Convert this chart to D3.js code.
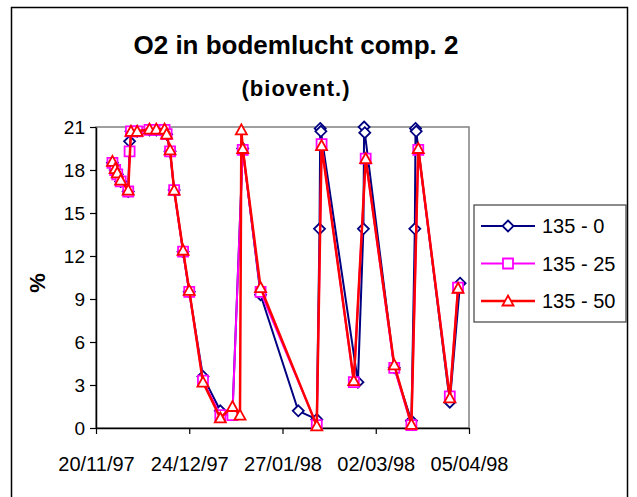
<!DOCTYPE html>
<html>
<head>
<meta charset="utf-8">
<script src="https://cdn.jsdelivr.net/npm/d3@7"></script>
<style>
  body { margin: 0; background: #fff; }
  text { font-family: Arial, "Liberation Sans", sans-serif; }
</style>
</head>
<body>
<div id="chart"></div>
<script>

// data
var dates = [
  "1997-11-26 00:00", "1997-11-27 00:00", "1997-11-27 18:00", "1997-11-29 00:00",
  "1997-12-01 18:00", "1997-12-02 06:00", "1997-12-02 18:00", "1997-12-05 00:00",
  "1997-12-09 12:00", "1997-12-12 00:00", "1997-12-15 00:00", "1997-12-15 18:00",
  "1997-12-17 00:00", "1997-12-18 12:00", "1997-12-21 18:00", "1997-12-24 00:00",
  "1997-12-29 00:00", "1998-01-04 08:00", "1998-01-08 18:00", "1998-01-11 12:00",
  "1998-01-12 00:00", "1998-01-12 12:00", "1998-01-19 00:00", "1998-02-01 18:00",
  "1998-02-08 12:00", "1998-02-09 12:00", "1998-02-09 18:00", "1998-02-10 00:00",
  "1998-02-10 06:00", "1998-02-22 00:00", "1998-02-23 12:00", "1998-02-25 12:00",
  "1998-02-25 18:00", "1998-02-26 00:00", "1998-02-26 08:00", "1998-03-08 18:00",
  "1998-03-15 00:00", "1998-03-16 06:00", "1998-03-16 12:00", "1998-03-16 18:00",
  "1998-03-17 12:00", "1998-03-29 00:00", "1998-04-01 00:00", "1998-04-01 18:00"
];

var o2_0 = [
  18.5, 18.0, 17.7, 17.2, 16.5, 20.0, 20.7, 20.7, 20.8, 20.8, 20.8, 20.5,
  19.3, 16.6, 12.3, 9.5, 3.6, 1.2, 1.0, null, null, 19.5, 9.3, 1.2,
  0.6, 13.9, 20.9, 20.7, null, null, 3.2, 13.9, 21.0, 20.6, null, 4.2,
  0.5, 13.9, 20.9, 20.7, null, 1.8, null, 10.1
];
var o2_25 = [
  18.5, 18.0, 17.7, 17.2, 16.5, 19.3, 20.7, 20.7, 20.8, 20.8, 20.8, 20.5,
  19.3, 16.6, 12.3, 9.5, 3.3, 0.9, 0.9, null, null, 19.4, 9.5, null,
  0.2, null, null, null, 19.8, 3.2, null, null, null, null, 18.8, 4.2,
  0.2, null, null, null, 19.4, 2.2, 9.8, null
];
var o2_50 = [
  18.6, 18.1, 17.8, 17.3, 16.6, null, 20.7, 20.7, 20.85, 20.85, 20.85, 20.5,
  19.4, 16.6, 12.4, 9.6, 3.2, 0.7, 1.5, 0.9, 20.8, 19.5, 9.8, null,
  0.15, null, null, null, 19.7, 3.3, null, null, null, null, 18.8, 4.4,
  0.25, null, null, null, 19.5, 2.1, 9.75, null
];

var seriesNames = ["135 - 0", "135 - 25", "135 - 50"];
var seriesColors = ["#000080", "#ff00ff", "#ff0000"];
var xTickLabels = ["20/11/97", "24/12/97", "27/01/98", "02/03/98", "05/04/98"];
var yTicks = [0, 3, 6, 9, 12, 15, 18, 21];

var W = 637, H = 497;
var margin = {top: 127, right: 168, bottom: 69, left: 96},
    width = W - margin.left - margin.right,
    height = H - margin.top - margin.bottom;

var parseTime = d3.timeParse("%Y-%m-%d %H:%M");
var parseTick = d3.timeParse("%d/%m/%y");

var svg = d3.select("#chart").append("svg")
    .attr("width", W)
    .attr("height", H);

// chart border
svg.append("rect")
    .attr("x", 11.5).attr("y", 7.5)
    .attr("width", 616).attr("height", 500)
    .attr("fill", "none")
    .attr("stroke", "#000")
    .attr("stroke-width", 1.5);

var g = svg.append("g")
    .attr("transform", "translate(" + margin.left + "," + margin.top + ")");

var x = d3.scaleTime()
    .domain(d3.extent(xTickLabels, parseTick))
    .range([0, width]);

var y = d3.scaleLinear()
    .domain([0, 21])
    .range([height, 0]);

// plot area frame (grey)
g.append("rect")
    .attr("x", 0).attr("y", 0)
    .attr("width", width).attr("height", height)
    .attr("fill", "#fff")
    .attr("stroke", "#808080")
    .attr("stroke-width", 1.5);

// axes
var xAxis = g.append("g")
    .attr("transform", "translate(0," + height + ")")
    .call(d3.axisBottom(x)
        .tickValues(xTickLabels.map(parseTick))
        .tickFormat(d3.timeFormat("%d/%m/%y"))
        .tickSize(6)
        .tickPadding(23)
        .tickSizeOuter(0));
xAxis.selectAll("text").attr("font-size", 20).attr("fill", "#000");

var yAxis = g.append("g")
    .call(d3.axisLeft(y)
        .tickValues(yTicks)
        .tickSize(6)
        .tickPadding(5)
        .tickSizeOuter(0));
yAxis.selectAll("text").attr("font-size", 19).attr("fill", "#000");

g.selectAll(".domain").attr("stroke", "#000").attr("stroke-width", 1.5);
g.selectAll(".tick line").attr("stroke", "#000").attr("stroke-width", 1.2);

// markers
var markerPath = [
  "M0,-5.5L5.5,0L0,5.5L-5.5,0Z",
  "M-5,-5H5V5H-5Z",
  "M0,-5.5L5.5,4.5H-5.5Z"
];

var lineGen = d3.line()
    .x(function(d) { return x(d.date); })
    .y(function(d) { return y(d.value); });

[o2_0, o2_25, o2_50].forEach(function(vals, s) {
  var pts = vals.map(function(v, i) { return {date: parseTime(dates[i]), value: v}; })
      .filter(function(d) { return d.value != null; });

  g.append("path")
      .datum(pts)
      .attr("fill", "none")
      .attr("stroke", seriesColors[s])
      .attr("stroke-width", s == 2 ? 2.5 : 2)
      .attr("stroke-linejoin", "round")
      .attr("d", lineGen);

  g.selectAll(".m" + s)
      .data(pts)
    .enter().append("path")
      .attr("class", "m" + s)
      .attr("transform", function(d) { return "translate(" + x(d.date) + "," + y(d.value) + ")"; })
      .attr("d", markerPath[s])
      .attr("fill", "#fff")
      .attr("stroke", seriesColors[s])
      .attr("stroke-width", 1.8);
});

// title
svg.append("text")
    .attr("x", 296).attr("y", 54)
    .attr("text-anchor", "middle")
    .attr("font-size", 26).attr("font-weight", "bold")
    .text("O2 in bodemlucht comp. 2");
svg.append("text")
    .attr("x", 296).attr("y", 96)
    .attr("text-anchor", "middle")
    .attr("font-size", 22).attr("font-weight", "bold")
    .attr("letter-spacing", 1)
    .text("(biovent.)");

// y label
svg.append("text")
    .attr("transform", "translate(45,283) rotate(-90)")
    .attr("text-anchor", "middle")
    .attr("font-size", 22).attr("font-weight", "bold")
    .text("%");

// legend
var legend = svg.append("g").attr("transform", "translate(474,205)");
legend.append("rect")
    .attr("width", 152).attr("height", 117)
    .attr("fill", "#fff")
    .attr("stroke", "#404040")
    .attr("stroke-width", 1.2);

seriesNames.forEach(function(name, s) {
  var row = legend.append("g").attr("transform", "translate(0," + (21 + s * 37.5) + ")");
  row.append("line")
      .attr("x1", 7).attr("x2", 61)
      .attr("stroke", seriesColors[s])
      .attr("stroke-width", s == 2 ? 2.5 : 2);
  row.append("path")
      .attr("transform", "translate(34,0)")
      .attr("d", markerPath[s])
      .attr("fill", "#fff")
      .attr("stroke", seriesColors[s])
      .attr("stroke-width", 1.8);
  row.append("text")
      .attr("x", 68).attr("y", 7)
      .attr("font-size", 20)
      .text(name);
});

</script>
</body>
</html>
